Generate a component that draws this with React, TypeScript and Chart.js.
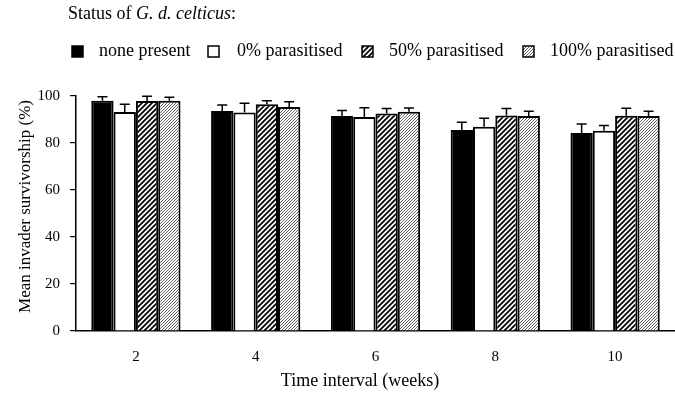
import React, { useEffect, useRef } from 'react';
import { Chart, registerables } from 'chart.js';

Chart.register(...registerables);

// ---- data ----
const weeks = ['2', '4', '6', '8', '10'];
const seriesLabels = ['none present', '0% parasitised', '50% parasitised', '100% parasitised'];
const nonePresent = [98, 93.6, 91.5, 85.5, 84.3];
const nonePresentErr = [1.7, 2.6, 2.3, 3.3, 3.8];
const zeroParasitised = [93.2, 93, 91.1, 86.9, 85.2];
const zeroParasitisedErr = [3.3, 3.9, 3.9, 3.6, 2.2];
const fiftyParasitised = [97.9, 96.5, 92.6, 91.7, 91.6];
const fiftyParasitisedErr = [2, 1.5, 2.1, 3, 3.2];
const hundredParasitised = [98, 95.3, 93.3, 91.5, 91.5];
const hundredParasitisedErr = [1.5, 2.3, 1.6, 2, 2];
const yTicks = [0, 20, 40, 60, 80, 100];

const titlePlain = 'Status of ';
const titleItalic = 'G. d. celticus';
const titleEnd = ':';
const yTitle = 'Mean invader survivorship (%)';
const xTitle = 'Time interval (weeks)';

const FONT = '"Liberation Serif", "Times New Roman", serif';

function makeHatch(size: number, lineWidth: number, color: string) {
  const c = document.createElement('canvas');
  c.width = size;
  c.height = size;
  const g = c.getContext('2d')!;
  g.fillStyle = '#ffffff';
  g.fillRect(0, 0, size, size);
  g.strokeStyle = color;
  g.lineWidth = lineWidth;
  g.beginPath();
  g.moveTo(0, size);
  g.lineTo(size, 0);
  g.moveTo(-size / 2, size / 2);
  g.lineTo(size / 2, -size / 2);
  g.moveTo(size / 2, size * 1.5);
  g.lineTo(size * 1.5, size / 2);
  g.stroke();
  return g.createPattern(c, 'repeat')!;
}

const errorBarPlugin = {
  id: 'errorBars',
  afterDatasetsDraw(chart: any) {
    const ctx = chart.ctx;
    const y = chart.scales.y;
    ctx.save();
    ctx.strokeStyle = '#000';
    ctx.lineWidth = 1.5;
    chart.data.datasets.forEach((ds: any, i: number) => {
      const meta = chart.getDatasetMeta(i);
      meta.data.forEach((bar: any, j: number) => {
        const v = ds.data[j];
        const e = ds.errors[j];
        const yTop = y.getPixelForValue(v + e);
        const yBase = y.getPixelForValue(v);
        ctx.beginPath();
        ctx.moveTo(bar.x, yBase);
        ctx.lineTo(bar.x, yTop);
        ctx.moveTo(bar.x - 5, yTop);
        ctx.lineTo(bar.x + 5, yTop);
        ctx.stroke();
      });
    });
    ctx.restore();
  },
};

const legendPlugin = {
  id: 'customLegend',
  afterDraw(chart: any, _args: any, opts: any) {
    const ctx = chart.ctx;
    ctx.save();
    ctx.fillStyle = '#000';
    ctx.textBaseline = 'alphabetic';
    ctx.textAlign = 'left';
    // heading
    let x = opts.titleX;
    ctx.font = `18px ${FONT}`;
    ctx.fillText(titlePlain, x, opts.titleY);
    x += ctx.measureText(titlePlain).width;
    ctx.font = `italic 18px ${FONT}`;
    ctx.fillText(titleItalic, x, opts.titleY);
    x += ctx.measureText(titleItalic).width;
    ctx.font = `18px ${FONT}`;
    ctx.fillText(titleEnd, x, opts.titleY);
    // items
    chart.data.datasets.forEach((ds: any, i: number) => {
      const bx = opts.boxX[i];
      ctx.fillStyle = ds.backgroundColor;
      ctx.fillRect(bx, opts.boxY, opts.box, opts.box);
      ctx.strokeStyle = '#000';
      ctx.lineWidth = 1.5;
      ctx.strokeRect(bx, opts.boxY, opts.box, opts.box);
      ctx.fillStyle = '#000';
      ctx.font = `18px ${FONT}`;
      ctx.fillText(ds.label, opts.textX[i], opts.textY);
    });
    // axis titles
    ctx.textAlign = 'center';
    ctx.textBaseline = 'middle';
    ctx.font = `18px ${FONT}`;
    ctx.fillText(xTitle, opts.xTitleX, opts.xTitleY);
    ctx.translate(opts.yTitleX, opts.yTitleY);
    ctx.rotate(-Math.PI / 2);
    ctx.font = `17px ${FONT}`;
    ctx.fillText(yTitle, 0, 0);
    ctx.restore();
  },
};

export default function App() {
  const ref = useRef<HTMLCanvasElement>(null);

  useEffect(() => {
    if (!ref.current) return;
    const hatch50 = makeHatch(5, 1.8, '#000000');
    const hatch100 = makeHatch(3, 1, '#666666');
    const values = [nonePresent, zeroParasitised, fiftyParasitised, hundredParasitised];
    const errors = [nonePresentErr, zeroParasitisedErr, fiftyParasitisedErr, hundredParasitisedErr];
    const fills: any[] = ['#000000', '#ffffff', hatch50, hatch100];

    const chart = new Chart(ref.current, {
      type: 'bar',
      data: {
        labels: weeks,
        datasets: seriesLabels.map((label, i) => ({
          label,
          data: values[i],
          errors: errors[i],
          backgroundColor: fills[i],
          borderColor: '#000000',
          borderWidth: 2,
          categoryPercentage: 0.745,
          barPercentage: 1,
        })) as any,
      },
      options: {
        animation: false,
        responsive: false,
        maintainAspectRatio: false,
        layout: { padding: { top: 96, left: 0, right: 0, bottom: 0 } },
        plugins: {
          legend: { display: false },
          tooltip: { enabled: false },
          customLegend: {
            titleX: 68,
            titleY: 19,
            boxX: [72, 208, 362, 523],
            textX: [99, 237, 389, 550],
            boxY: 46,
            box: 11,
            textY: 56,
            xTitleX: 360,
            xTitleY: 381,
            yTitleX: 25.5,
            yTitleY: 206.5,
          },
        } as any,
        scales: {
          x: {
            grid: { display: false, drawTicks: false },
            border: { display: true, color: '#000', width: 1.5 },
            ticks: { color: '#000', font: { family: FONT, size: 15 }, padding: 17 },
            afterFit: (s: any) => {
              s.height = 64;
            },
          },
          y: {
            min: 0,
            max: 100,
            afterBuildTicks: (s: any) => {
              s.ticks = yTicks.map((v) => ({ value: v }));
            },
            grid: { display: true, drawOnChartArea: false, drawTicks: true, tickLength: 6, color: '#000', lineWidth: 1.2 },
            border: { display: true, color: '#000', width: 1.5 },
            ticks: { color: '#000', font: { family: FONT, size: 15 }, padding: 10 },
            afterFit: (s: any) => {
              s.width = 76;
            },
          },
        },
      },
      plugins: [errorBarPlugin, legendPlugin],
    });
    return () => chart.destroy();
  }, []);

  return (
    <div style={{ position: 'absolute', left: 0, top: 0, width: 675, height: 395, background: '#fff' }}>
      <canvas ref={ref} width={675} height={395} style={{ display: 'block' }} />
    </div>
  );
}
